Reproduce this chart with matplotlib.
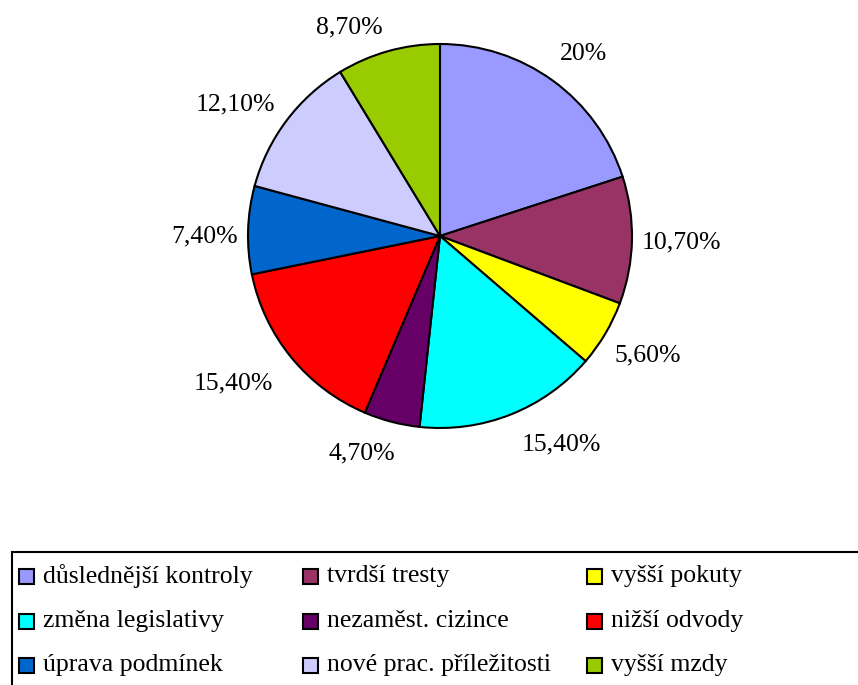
import matplotlib
matplotlib.use("Agg")
import matplotlib.pyplot as plt
from matplotlib.patches import Rectangle

plt.rcParams["font.family"] = ["Liberation Serif", "DejaVu Serif"]

# Data
categories = ["důslednější kontroly", "tvrdší tresty", "vyšší pokuty",
              "změna legislativy", "nezaměst. cizince", "nižší odvody",
              "úprava podmínek", "nové prac. příležitosti", "vyšší mzdy"]
shares = [20.0, 10.7, 5.6, 15.4, 4.7, 15.4, 7.4, 12.1, 8.7]
share_labels = ["20%", "10,70%", "5,60%", "15,40%", "4,70%",
                "15,40%", "7,40%", "12,10%", "8,70%"]
colors = ["#9999FF", "#993366", "#FFFF00", "#00FFFF", "#660066",
          "#FF0000", "#0066CC", "#CCCCFF", "#99CC00"]

# Pixel nudges for the value labels (Excel placement), x right / y down
label_nudge = [(6, 8), (7, 1), (6, 0), (35, -9), (-19, -9),
               (-25, -1), (-1, 8), (-17, 9), (-27, 17)]

W, H = 858, 685
fig = plt.figure(figsize=(W / 100, H / 100), dpi=100)
ax = fig.add_axes([0, 0, 1, 1])

wedges, texts = ax.pie(shares, colors=colors, labels=share_labels,
                       startangle=90, counterclock=False,
                       center=(440, H - 236), radius=192,
                       labeldistance=1.22,
                       wedgeprops=dict(edgecolor="black", linewidth=1.5),
                       textprops=dict(fontsize=18.5))
for t, (dx, dy) in zip(texts, label_nudge):
    x, y = t.get_position()
    t.set_position((x + dx, y - dy))
    t.set_horizontalalignment("center")
    t.set_verticalalignment("center")

ax.set_xlim(0, W)
ax.set_ylim(0, H)
ax.set_aspect("auto")
ax.axis("off")

# Legend box (extends past the right and bottom edges)
ax.add_patch(Rectangle((12, -10), W, H - 552 + 10, facecolor="none",
                       edgecolor="black", linewidth=1.5, clip_on=False))

# Legend entries in 3 equal-width columns, filled row by row
col_x = [19, 303, 587]
row_y = [576, 621, 665]
for i, (name, c) in enumerate(zip(categories, colors)):
    x = col_x[i % 3]
    y = H - row_y[i // 3]
    ax.add_patch(Rectangle((x, y - 7.5), 15, 15, facecolor=c,
                           edgecolor="black", linewidth=1.5))
    ax.text(x + 24, y, name, fontsize=18.5, ha="left", va="center")

fig.savefig("out.png", dpi=100)
